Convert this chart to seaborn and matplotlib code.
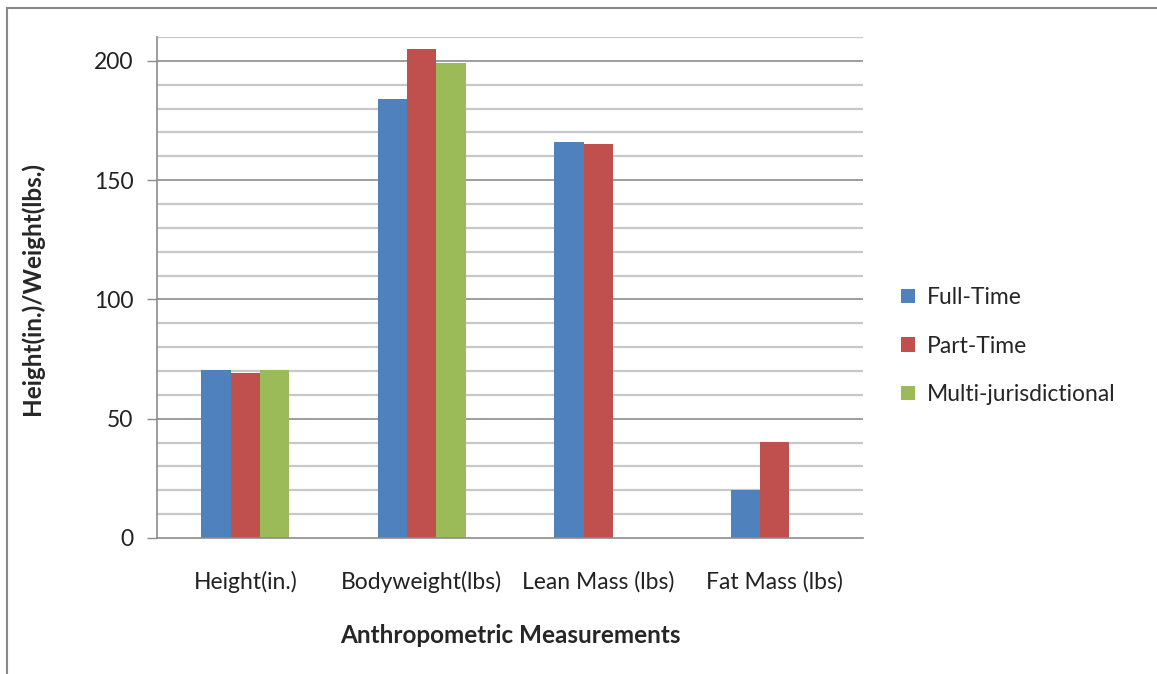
import matplotlib
matplotlib.use("Agg")
import matplotlib.pyplot as plt
import pandas as pd
import seaborn as sns
from matplotlib.patches import Rectangle

# Chart data
categories = ["Height(in.)", "Bodyweight(lbs)", "Lean Mass (lbs)", "Fat Mass (lbs)"]
groups = ["Full-Time", "Part-Time", "Multi-jurisdictional"]
full_time = [70.6, 184.0, 165.8, 20.1]
part_time = [69.2, 204.9, 165.1, 40.4]
multi_jur = [70.6, 199.0, None, None]
colors = ["#4F81BD", "#C0504D", "#9BBB59"]

df = pd.DataFrame({
    "measure": categories * 3,
    "group": [g for g in groups for _ in categories],
    "value": full_time + part_time + multi_jur,
})

sns.set_style("white")
plt.rcParams["font.family"] = ["Lato", "DejaVu Sans"]

fig = plt.figure(figsize=(11.57, 6.74), dpi=100)
ax = fig.add_axes([157 / 1157, 1 - 538 / 674, 706 / 1157, 501 / 674])

sns.barplot(data=df, x="measure", y="value", hue="group", hue_order=groups,
            palette=colors, width=0.5, saturation=1, ax=ax, legend=True,
            edgecolor="none", linewidth=0)

ax.set_xlim(-0.5, 3.5)
ax.set_ylim(0, 210)

# gridlines: minor every 10, major every 50
for v in range(10, 211, 10):
    major = v % 50 == 0
    ax.axhline(v, color="#8c8c8c" if major else "#c8c8c8",
               lw=1.2 if major else 1.6, zorder=0)
ax.set_axisbelow(True)

ax.set_yticks([0, 50, 100, 150, 200])
ax.tick_params(axis="y", length=7, width=1, color="#8c8c8c", labelsize=16.5,
               labelcolor="#222222", pad=10, left=True)
ax.tick_params(axis="x", length=0, labelsize=16.5, labelcolor="#222222", pad=24)

for side in ["top", "right"]:
    ax.spines[side].set_visible(False)
ax.spines["left"].set_color("#8c8c8c")
ax.spines["bottom"].set_color("#8c8c8c")
ax.spines["left"].set_linewidth(1.2)
ax.spines["bottom"].set_linewidth(1.2)

ax.set_xlabel("Anthropometric Measurements", fontsize=17.5, fontweight="bold")
ax.set_ylabel("Height(in.)/Weight(lbs.)", fontsize=17.5, fontweight="bold")
ax.xaxis.set_label_coords(0.501, -0.172)
ax.yaxis.set_label_coords(-0.160, 0.499)

ax.legend(loc="center left", bbox_to_anchor=(1.025, 0.383), frameon=False,
          fontsize=16.5, handlelength=0.6, handleheight=0.6, handletextpad=0.5,
          labelspacing=1.2, title=None)

# outer chart frame (partly cropped)
fig.patches.append(Rectangle((7 / 1157, -0.1), 1.2, 1 - 8 / 674 + 0.1,
                             transform=fig.transFigure, fill=False,
                             edgecolor="#888888", lw=1.5))

fig.savefig("out.png", dpi=100)
